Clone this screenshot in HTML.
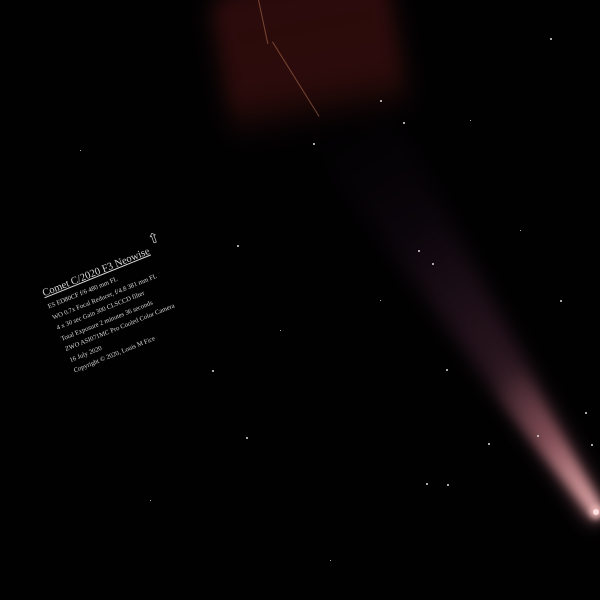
<!DOCTYPE html>
<html><head><meta charset="utf-8"><style>
html,body{margin:0;padding:0;background:#000;}
#sky{position:relative;width:600px;height:600px;overflow:hidden;background:#020102;}
.glow{position:absolute;}
.star{position:absolute;border-radius:50%;background:#ddd;}
#caption{position:absolute;left:41px;top:289px;transform-origin:0 0;transform:rotate(-22deg);font-family:"Liberation Serif",serif;color:#d8d8d8;white-space:nowrap;}
#caption .t{font-size:10.5px;text-decoration:underline;margin-bottom:3px;}
#caption .l{font-size:6.6px;line-height:11.5px;}
</style></head><body>
<div id="sky">
  <div class="glow" style="left:220px;top:-20px;width:180px;height:150px;background:linear-gradient(180deg,rgba(55,14,14,0.8),rgba(60,16,14,0.7) 70%,rgba(30,8,8,0));filter:blur(10px);transform:rotate(-10deg);border-radius:20px;"></div>
  <div class="glow" style="left:258px;top:0;width:1px;height:45px;background:rgba(200,130,90,0.5);transform-origin:0 0;transform:rotate(-12deg);"></div>
  <div class="glow" style="left:272px;top:42px;width:1px;height:88px;background:rgba(200,130,90,0.5);transform-origin:0 0;transform:rotate(-32deg);"></div>
  <div class="glow" style="left:600px;top:518px;width:470px;height:90px;margin-top:-45px;transform-origin:0 50%;transform:rotate(-122.4deg);filter:blur(9px);">
    <div style="width:100%;height:100%;background:linear-gradient(90deg,rgba(210,130,140,0.6),rgba(130,65,95,0.3) 40%,rgba(60,30,60,0.12) 75%,rgba(0,0,0,0));clip-path:polygon(0 40%,100% 5%,100% 95%,0 60%);"></div>
  </div>
  <div class="glow" style="left:600px;top:516px;width:170px;height:40px;margin-top:-20px;transform-origin:0 50%;transform:rotate(-124deg);filter:blur(5px);">
    <div style="width:100%;height:100%;background:linear-gradient(90deg,rgba(245,185,185,0.9),rgba(200,120,130,0.4) 55%,rgba(0,0,0,0));clip-path:polygon(0 35%,100% 0,100% 100%,0 65%);"></div>
  </div>
  <div class="star" style="left:593px;top:509px;width:6px;height:6px;background:#ffe0e0;box-shadow:0 0 6px 3px rgba(255,200,200,0.7);"></div>
  <div class="star" style="left:237px;top:245px;width:2px;height:2px;"></div>
  <div class="star" style="left:212px;top:370px;width:2px;height:2px;"></div>
  <div class="star" style="left:246px;top:437px;width:2px;height:2px;"></div>
  <div class="star" style="left:446px;top:369px;width:2px;height:2px;"></div>
  <div class="star" style="left:488px;top:443px;width:2px;height:2px;"></div>
  <div class="star" style="left:426px;top:483px;width:2px;height:2px;"></div>
  <div class="star" style="left:447px;top:484px;width:2px;height:2px;"></div>
  <div class="star" style="left:591px;top:444px;width:2px;height:2px;"></div>
  <div class="star" style="left:585px;top:412px;width:2px;height:2px;"></div>
  <div class="star" style="left:537px;top:435px;width:2px;height:2px;"></div>
  <div class="star" style="left:380px;top:100px;width:2px;height:2px;"></div>
  <div class="star" style="left:403px;top:122px;width:2px;height:2px;"></div>
  <div class="star" style="left:313px;top:143px;width:2px;height:2px;"></div>
  <div class="star" style="left:432px;top:263px;width:2px;height:2px;"></div>
  <div class="star" style="left:418px;top:250px;width:2px;height:2px;"></div>
  <div class="star" style="left:550px;top:38px;width:2px;height:2px;"></div>
  <div class="star" style="left:470px;top:120px;width:1px;height:1px;"></div>
  <div class="star" style="left:520px;top:230px;width:1px;height:1px;"></div>
  <div class="star" style="left:560px;top:300px;width:2px;height:2px;"></div>
  <div class="star" style="left:330px;top:560px;width:1px;height:1px;"></div>
  <div class="star" style="left:150px;top:500px;width:1px;height:1px;"></div>
  <div class="star" style="left:80px;top:150px;width:1px;height:1px;"></div>
  <div class="star" style="left:380px;top:300px;width:1px;height:1px;"></div>
  <div class="star" style="left:280px;top:330px;width:1px;height:1px;"></div>
  <div class="glow" style="left:148px;top:231px;color:#ccc;font:14px 'DejaVu Sans',sans-serif;transform:rotate(-20deg);">⇧</div>
  <div id="caption">
    <div class="t">Comet C/2020 F3 Neowise</div>
    <div class="l">ES ED80CF f/6 480 mm FL</div>
    <div class="l">WO 0.7x Focal Reducer, f/4.8 381 mm FL</div>
    <div class="l">4 x 30 sec Gain 300 CLSCCD filter</div>
    <div class="l">Total Exposure 2 minutes 36 seconds</div>
    <div class="l">ZWO ASI071MC Pro Cooled Color Camera</div>
    <div class="l">16 July 2020</div>
    <div class="l">Copyright © 2020, Louis M Fice</div>
  </div>
</div>
</body></html>
